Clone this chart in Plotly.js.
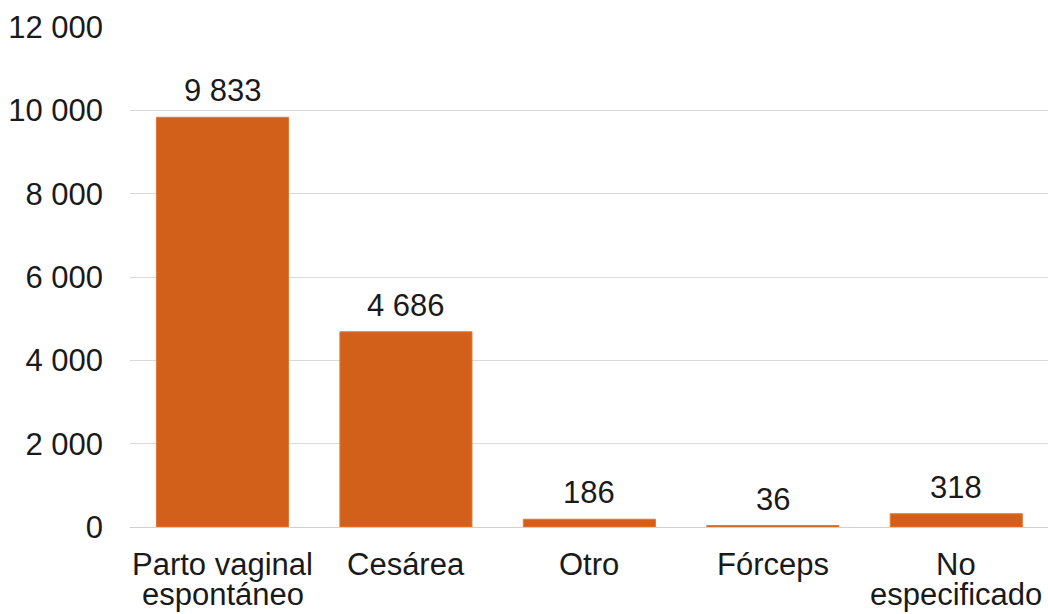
<!DOCTYPE html>
<html>
<head>
<meta charset="utf-8">
<script src="https://cdn.plot.ly/plotly-3.0.1.min.js"></script>
<style>html,body{margin:0;padding:0;background:#fff;}#chart{width:1048px;height:614px;}</style>
</head>
<body>
<div id="chart"></div>
<script>
const categories = ["Parto vaginal<br>espontáneo", "Cesárea", "Otro", "Fórceps", "No<br>especificado"];
const values = [9833, 4686, 186, 36, 318];
const yTicks = [0, 2000, 4000, 6000, 8000, 10000, 12000];

const FONT = 'Liberation Sans, Arial, sans-serif';
const FS = 31;
const TXT = '#1a1a1a';

const fmt = v => v.toLocaleString('en-US').replace(/,/g, ' ');

const trace = {
  type: 'bar',
  x: categories,
  y: values,
  marker: {color: '#D2601A', line: {color: '#E5772F', width: 1}},
  hoverinfo: 'skip'
};

const annotations = [];
// value labels above bars
categories.forEach((c, i) => {
  annotations.push({
    x: c, y: values[i], xref: 'x', yref: 'y',
    text: fmt(values[i]), showarrow: false,
    xanchor: 'center', yanchor: 'bottom', yshift: 7,
    font: {family: FONT, size: FS, color: TXT}
  });
});
// category labels with tight line spacing (as in the reference)
categories.forEach((c) => {
  c.split('<br>').forEach((line, j) => {
    annotations.push({
      x: c, y: 0, xref: 'x', yref: 'paper',
      text: line, showarrow: false,
      xanchor: 'center', yanchor: 'top', yshift: -18 - j * 30,
      font: {family: FONT, size: FS, color: TXT}
    });
  });
});

const layout = {
  width: 1048, height: 614,
  margin: {l: 130, r: 0, t: 27, b: 87, pad: 0},
  paper_bgcolor: '#fff', plot_bgcolor: '#fff',
  separators: '. ',
  bargap: 0.28,
  showlegend: false,
  font: {family: FONT, size: FS, color: TXT},
  xaxis: {
    showgrid: false, showline: false, zeroline: false, ticks: '',
    showticklabels: false,
    automargin: false
  },
  yaxis: {
    range: [0, 12000], tickvals: yTicks, tickformat: ',d',
    showgrid: true, gridcolor: '#d9d9d9', gridwidth: 1,
    zeroline: true, zerolinecolor: '#d0d0d0', zerolinewidth: 1,
    showline: false, ticks: '', ticklabelstandoff: 26,
    tickfont: {family: FONT, size: FS, color: TXT},
    automargin: false
  },
  annotations: annotations
};

Plotly.newPlot('chart', [trace], layout, {staticPlot: true, displayModeBar: false});
</script>
</body>
</html>
